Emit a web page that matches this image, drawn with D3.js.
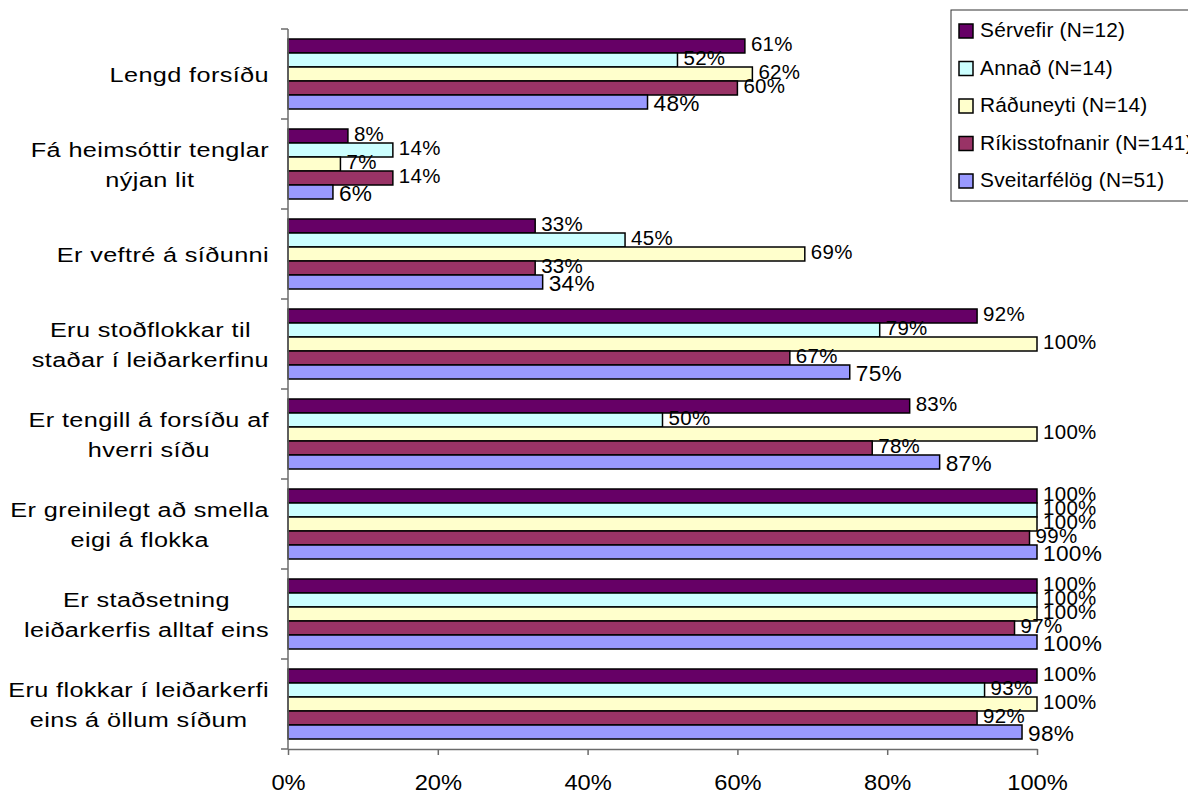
<!DOCTYPE html>
<html>
<head>
<meta charset="utf-8">
<script src="https://cdn.jsdelivr.net/npm/d3@7"></script>
<style>
  html, body { margin: 0; padding: 0; background: #fff; }
  svg { display: block; font-family: "Liberation Sans", Arial, sans-serif; }
</style>
</head>
<body>
<svg id="chart" width="1188" height="794"></svg>
<script>
// ---- data ----
const categories = [
  ["Lengd forsíðu"],
  ["Fá heimsóttir tenglar", "nýjan lit"],
  ["Er veftré á síðunni"],
  ["Eru stoðflokkar til", "staðar í leiðarkerfinu"],
  ["Er tengill á forsíðu af", "hverri síðu"],
  ["Er greinilegt að smella", "eigi á flokka"],
  ["Er staðsetning", "leiðarkerfis alltaf eins"],
  ["Eru flokkar í leiðarkerfi", "eins á öllum síðum"]
];
const seriesNames = ["Sérvefir (N=12)", "Annað (N=14)", "Ráðuneyti (N=14)", "Ríkisstofnanir (N=141)", "Sveitarfélög (N=51)"];
const servefir       = [61, 8, 33, 92, 83, 100, 100, 100];
const annad          = [52, 14, 45, 79, 50, 100, 100, 93];
const raduneyti      = [62, 7, 69, 100, 100, 100, 100, 100];
const rikisstofnanir = [60, 14, 33, 67, 78, 99, 97, 92];
const sveitarfelog   = [48, 6, 34, 75, 87, 100, 100, 98];
const seriesValues = [servefir, annad, raduneyti, rikisstofnanir, sveitarfelog];
const xTicks = [0, 20, 40, 60, 80, 100];
const colors = ["#660066", "#CCFFFF", "#FFFFCC", "#993366", "#9999FF"];

// ---- label styling per series (the original renders the last series larger) ----
const labelSize    = [19.5, 19.5, 19.5, 19.5, 22];
const labelStretch = [1.05, 1.05, 1.05, 1.05, 1.03];
const labelDy      = [5, 5, 5, 5, 8.5];

// ---- layout ----
const svg = d3.select("#chart");
const plotLeft = 288, plotRight = 1037, plotTop = 29, plotBottom = 749;

const x = d3.scaleLinear().domain([0, 100]).range([plotLeft, plotRight]);
const catIdx = d3.range(categories.length);
const y = d3.scaleBand().domain(catIdx).range([plotTop, plotBottom]).padding(0);
const ySub = d3.scaleBand().domain(d3.range(seriesNames.length)).range([10, y.bandwidth() - 10]).padding(0);

// bars
const g = svg.append("g");
seriesValues.forEach((vals, si) => {
  g.selectAll(null).data(vals).enter().append("rect")
    .attr("x", x(0))
    .attr("y", (d, i) => y(i) + ySub(si))
    .attr("width", d => x(d) - x(0))
    .attr("height", ySub.bandwidth())
    .attr("fill", colors[si])
    .attr("stroke", "#000")
    .attr("stroke-width", 1.5);
});

// value labels
seriesValues.forEach((vals, si) => {
  g.selectAll(null).data(vals).enter().append("text")
    .attr("transform", (d, i) => `translate(${x(d) + 6},${y(i) + ySub(si) + ySub.bandwidth() / 2 + labelDy[si]}) scale(${labelStretch[si]},1)`)
    .attr("font-size", labelSize[si])
    .attr("letter-spacing", 0.3)
    .attr("fill", "#000")
    .text(d => d + "%");
});

// axes
const axisColor = "#6b6b6b";
const yAxis = svg.append("g");
yAxis.append("line").attr("x1", plotLeft).attr("x2", plotLeft).attr("y1", plotTop).attr("y2", plotBottom)
  .attr("stroke", axisColor).attr("stroke-width", 1.5);
const bounds = catIdx.map(i => y(i)).concat([plotBottom]);
yAxis.selectAll(null).data(bounds).enter().append("line")
  .attr("x1", plotLeft - 7).attr("x2", plotLeft).attr("y1", d => d).attr("y2", d => d)
  .attr("stroke", axisColor).attr("stroke-width", 1.5);

const xAxis = svg.append("g").attr("transform", `translate(0,${plotBottom})`)
  .call(d3.axisBottom(x).tickValues(xTicks).tickSize(6).tickSizeOuter(0).tickFormat(d => d + "%"));
xAxis.select(".domain").attr("stroke", axisColor).attr("stroke-width", 1.5);
xAxis.selectAll(".tick line").attr("stroke", axisColor).attr("stroke-width", 1.5);
xAxis.selectAll(".tick text")
  .attr("font-family", "Liberation Sans, Arial, sans-serif")
  .attr("font-size", 21.5).attr("fill", "#000")
  .attr("dy", null).attr("y", null)
  .attr("transform", "translate(0,41) scale(1.1,1)");

// category labels (glyphs widened horizontally, like the original)
const labelRight = 269;
const catStretch = 1.24;
categories.forEach((lines, i) => {
  const cy = y(i) + y.bandwidth() / 2;
  const t = svg.append("text")
    .attr("font-size", 20.4).attr("letter-spacing", 0.3).attr("fill", "#000")
    .attr("text-anchor", "middle");
  const n = lines.length;
  const spans = lines.map((ln, k) => t.append("tspan")
    .attr("x", 0)
    .attr("y", (k - (n - 1) / 2) * 30)
    .text(ln));
  const maxW = d3.max(spans, s => s.node().getComputedTextLength()) * catStretch;
  const cx = labelRight - maxW / 2;
  t.attr("transform", `translate(${cx},${cy + 8}) scale(${catStretch},1)`);
});

// legend
const lg = svg.append("g");
lg.append("rect").attr("x", 951).attr("y", 10).attr("width", 300).attr("height", 191)
  .attr("fill", "#fff").attr("stroke", "#333").attr("stroke-width", 1);
seriesNames.forEach((name, si) => {
  const cy = 31 + si * 37.5;
  lg.append("rect").attr("x", 959).attr("y", cy - 7).attr("width", 14).attr("height", 14)
    .attr("fill", colors[si]).attr("stroke", "#000").attr("stroke-width", 1.5);
  lg.append("text").attr("transform", `translate(980,${cy + 6}) scale(1.07,1)`)
    .attr("font-size", 19.5).attr("letter-spacing", 0.2).attr("fill", "#000")
    .text(name);
});
</script>
</body>
</html>
